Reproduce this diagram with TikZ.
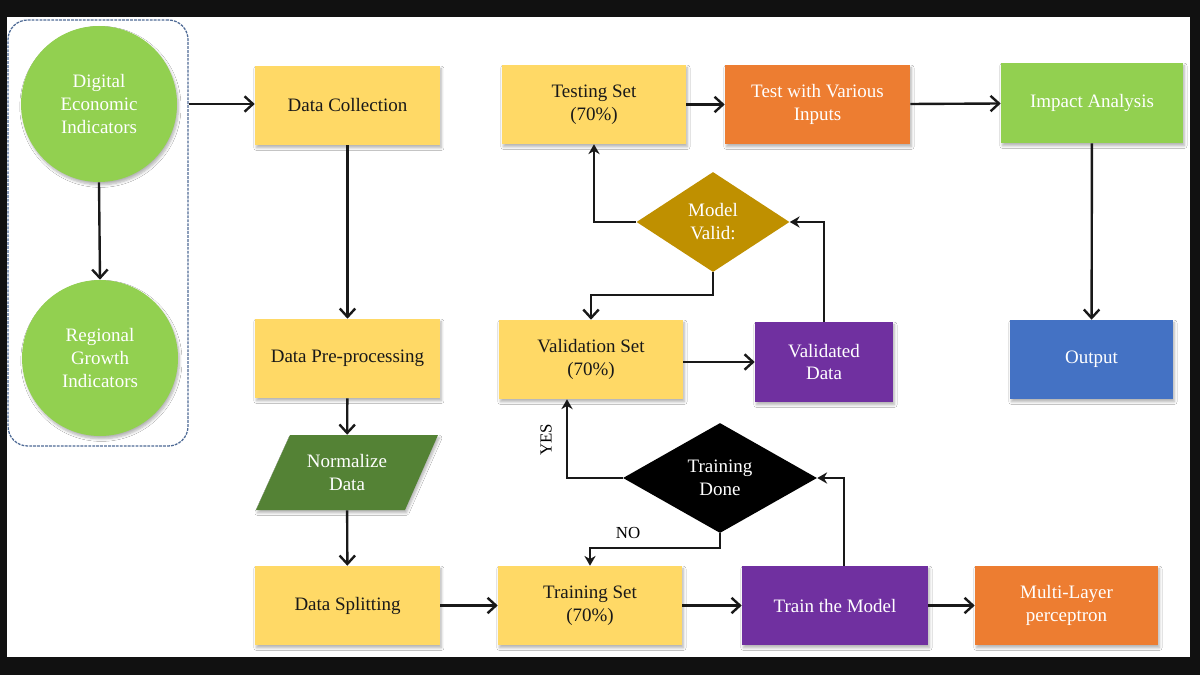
\documentclass[tikz,border=0pt]{standalone}
\usepackage{fontspec}
\setmainfont{Liberation Serif}
\usetikzlibrary{arrows.meta,shapes.geometric,shadows.blur,calc}
\newlength\pxu
\setlength\pxu{0.025cm}
\definecolor{ylw}{HTML}{FFD966}
\definecolor{lgreen}{HTML}{92D050}
\definecolor{dgreen}{HTML}{548235}
\definecolor{orng}{HTML}{ED7D31}
\definecolor{purp}{HTML}{7030A0}
\definecolor{blu}{HTML}{4472C4}
\definecolor{gold}{HTML}{BF9000}
\definecolor{grpblue}{HTML}{4F6B96}
\definecolor{frame}{HTML}{111111}
\tikzset{
  shad/.style={blur shadow={shadow xshift=1pt,shadow yshift=-2pt,shadow blur steps=6,shadow opacity=30}},
  box/.style={rectangle,inner sep=2pt,align=center,font=\fontsize{13.5}{16.3}\selectfont,shad},
  ybox/.style={box,fill=ylw,text=black!90},
  cbox/.style={box,fill=#1,text=white},
  circ/.style={circle,fill=lgreen,text=white,align=center,inner sep=0pt,font=\fontsize{13.5}{16.3}\selectfont,shad},
  dmd/.style={diamond,fill=#1,text=white,align=center,inner sep=0pt,font=\fontsize{13.5}{16.3}\selectfont},
  arr/.style={draw=black!90,line width=1.7pt,-{Straight Barb[length=6pt,width=11pt,line width=1.7pt]}},
  arrf/.style={draw=black!90,line width=1.7pt,-{Stealth[length=7pt,width=8pt]}},
  lbl/.style={font=\fontsize{12}{14}\selectfont,text=black}
}
\begin{document}
\begin{tikzpicture}[x=0.025cm,y=-0.025cm]
\fill[frame] (0,0) rectangle (1200,675);
\fill[white] (7,17) rectangle (1190,657);
\useasboundingbox (0,0) rectangle (1200,675);

% group box
\node (grp) [draw=grpblue,line width=0.9pt,dash pattern=on 2pt off 0.8pt,rounded corners=14pt,
  minimum width=180\pxu,minimum height=426\pxu] at (98,233) {};

\node (dei) [circ,minimum size=156\pxu] at (99,104) {Digital\\Economic\\Indicators};
\node (rgi) [circ,minimum size=156\pxu] at (100,358) {Regional\\Growth\\Indicators};

\node (dc) [ybox,minimum width=185\pxu,minimum height=79\pxu] at (347.5,105.5) {Data Collection};
\node (pre) [ybox,minimum width=185\pxu,minimum height=79\pxu] at (347.5,358.5) {Data Pre-processing};
\fill[dgreen,shad] (256,510) -- (405,510) -- (438,435) -- (290,435) -- cycle;
\node (norm) [rectangle,align=center,text=white,font=\fontsize{13.5}{16.3}\selectfont,
  minimum width=150\pxu,minimum height=75\pxu] at (347,472.5) {Normalize\\Data};
\node (split) [ybox,minimum width=185\pxu,minimum height=79\pxu] at (347.5,605.5) {Data Splitting};

\node (train) [ybox,minimum width=184\pxu,minimum height=79\pxu] at (590,605.5) {Training Set\\(70\%)};
\node (tm) [cbox=purp,minimum width=186\pxu,minimum height=79\pxu] at (835,605.5) {Train the Model};
\node (mlp) [cbox=orng,minimum width=183\pxu,minimum height=79\pxu] at (1066.5,605.5) {Multi-Layer\\perceptron};

\node (td) [dmd=black,minimum width=194\pxu,minimum height=110\pxu] at (720,478) {Training\\Done};

\node (vs) [ybox,minimum width=184\pxu,minimum height=79\pxu] at (591,359.5) {Validation Set\\(70\%)};
\node (vd) [cbox=purp,minimum width=138\pxu,minimum height=80\pxu] at (824,362) {Validated\\Data};

\node (mv) [dmd=gold,minimum width=153\pxu,minimum height=100\pxu] at (713,222) {Model\\Valid:};

\node (ts) [ybox,minimum width=184\pxu,minimum height=79\pxu] at (594,104.5) {Testing Set\\(70\%)};
\node (tvi) [cbox=orng,minimum width=185\pxu,minimum height=79\pxu] at (817.5,104.5) {Test with Various\\Inputs};
\node (ia) [cbox=lgreen,minimum width=182\pxu,minimum height=80\pxu] at (1092,103) {Impact Analysis};
\node (out) [cbox=blu,minimum width=163\pxu,minimum height=79\pxu] at (1091.5,359.5) {Output};

% connectors
\draw[arr] (dei.south) -- (rgi.north);
\draw[arr] (grp.east |- dei.center) -- (dc.west |- dei.center);
\draw[arr] (dc) -- (pre);
\draw[arr] (pre) -- (norm);
\draw[arr] (norm) -- (split);
\draw[arr] (split) -- (train);
\draw[arr] (train) -- (tm);
\draw[arr] (tm) -- (mlp);
\draw[arrf] ([xshift=9\pxu]tm.north) |- (td.east);
\draw[arrf] (td.west) -| ([xshift=-24\pxu]vs.south);
\draw[arrf] (td.south) -- ++(0,15) -| (train.north);
\draw[arr] (vs.east |- vd.center) -- (vd.west);
\draw[arrf] (vd.north) |- (mv.east);
\draw[arrf] (mv.west) -| (ts.south);
\draw[arr] (mv.south) -- ++(0,23) -| (vs.north);
\draw[arr] (ts) -- (tvi);
\draw[arr] (tvi) -- (ia);
\draw[arr] (ia) -- (out);

\node (yes) [lbl,rotate=90] at (546,440) {YES};
\node (no) [lbl] at (628,533) {NO};
\end{tikzpicture}
\end{document}
